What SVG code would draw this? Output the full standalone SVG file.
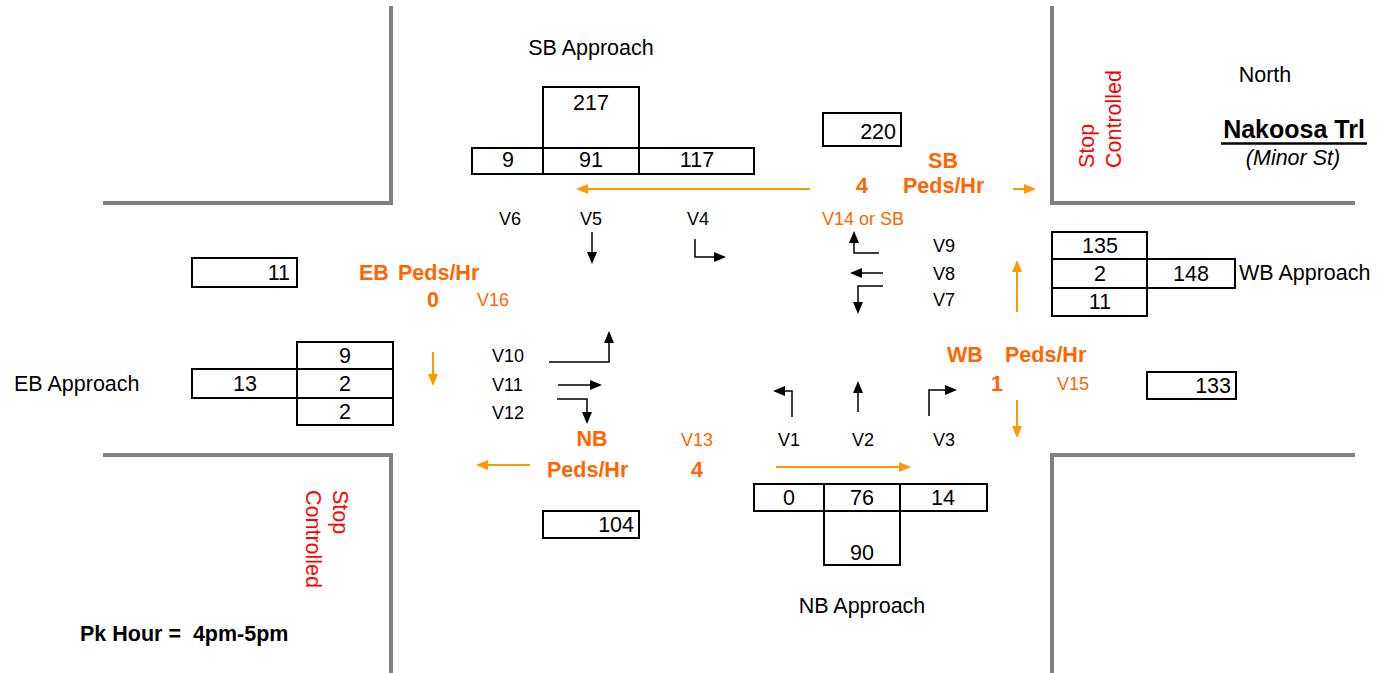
<svg xmlns="http://www.w3.org/2000/svg" width="1380" height="673" viewBox="0 0 1380 673">
<style>
text{font-family:"Liberation Sans",Arial,sans-serif;fill:#000;white-space:pre}
.t{font-size:21.5px}
.c{text-anchor:middle}
.e{text-anchor:end}
.v{font-size:18px}
.ov{font-size:18px;fill:#FF6600}
.ob{font-size:21.5px;font-weight:bold;fill:#FF6600}
.red{font-size:21.5px;fill:#FF0000}
.box{fill:none;stroke:#000;stroke-width:2}
.curb{fill:none;stroke:#808080;stroke-width:4}
.ba{fill:none;stroke:#000;stroke-width:1.5;marker-end:url(#ab)}
.oa{fill:none;stroke:#FF9900;stroke-width:2;marker-end:url(#ao)}
</style>
<defs>
<marker id="ab" markerWidth="12" markerHeight="10" refX="10" refY="5" orient="auto" markerUnits="userSpaceOnUse"><path d="M0,0 L12,5 L0,10 z" fill="#000"/></marker>
<marker id="ao" markerWidth="12" markerHeight="10" refX="10" refY="5" orient="auto" markerUnits="userSpaceOnUse"><path d="M0,0 L12,5 L0,10 z" fill="#FF9900"/></marker>
</defs>
<rect width="1380" height="673" fill="#fff"/>
<g id="curbs">
<path class="curb" d="M391,6 V203 H103"/>
<path class="curb" d="M1052,6 V203 H1355"/>
<path class="curb" d="M103,455 H391 V673"/>
<path class="curb" d="M1355,455 H1052 V673"/>
</g>
<g id="connectors">
<path class="ba" d="M592,232 V262"/>
<path class="ba" d="M695,239 V257 H724"/>
<path class="ba" d="M879,253 H854 V233"/>
<path class="ba" d="M883,273 H852"/>
<path class="ba" d="M883,286 H858 V312"/>
<path class="ba" d="M549,362 H609 V333"/>
<path class="ba" d="M558,385 H600"/>
<path class="ba" d="M557,399 H587 V422"/>
<path class="ba" d="M792,417 V391 H775"/>
<path class="ba" d="M858,412 V383"/>
<path class="ba" d="M929,416 V390 H955"/>
<path class="oa" d="M810,189 H578"/>
<path class="oa" d="M1013,189 H1034"/>
<path class="oa" d="M1017,312 V262"/>
<path class="oa" d="M1017,400 V436"/>
<path class="oa" d="M776,467 H909"/>
<path class="oa" d="M530,465 H478"/>
<path class="oa" d="M433,352 V384"/>
</g>
<g id="sb-approach">
<text class="t c" x="591" y="55">SB Approach</text>
<rect class="box" x="543" y="87" width="96" height="61"/>
<text class="t c" x="591" y="110">217</text>
<rect class="box" x="472" y="148" width="71" height="26"/>
<rect class="box" x="543" y="148" width="96" height="26"/>
<rect class="box" x="639" y="148" width="115" height="26"/>
<text class="t c" x="508" y="167">9</text>
<text class="t c" x="591" y="167">91</text>
<text class="t c" x="697" y="167">117</text>
</g>
<g id="sb-exit">
<rect class="box" x="823" y="113" width="78" height="33"/>
<text class="t e" x="896" y="139">220</text>
</g>
<g id="sb-peds">
<text class="ob c" x="943" y="168">SB</text>
<text class="ob c" x="862" y="193">4</text>
<text class="ob" x="903" y="193">Peds/Hr</text>
<text class="ov" x="822" y="225">V14 or SB</text>
</g>
<g id="sb-moves">
<text class="v" x="499" y="225">V6</text>
<text class="v" x="580" y="225">V5</text>
<text class="v" x="687" y="225">V4</text>
</g>
<g id="wb-moves">
<text class="v" x="933" y="252">V9</text>
<text class="v" x="933" y="280">V8</text>
<text class="v" x="933" y="306">V7</text>
</g>
<g id="wb-approach">
<rect class="box" x="1052" y="232" width="95" height="27"/>
<rect class="box" x="1052" y="259" width="95" height="29"/>
<rect class="box" x="1052" y="288" width="95" height="28"/>
<rect class="box" x="1147" y="259" width="88" height="29"/>
<text class="t c" x="1100" y="253">135</text>
<text class="t c" x="1100" y="281">2</text>
<text class="t c" x="1100" y="309">11</text>
<text class="t c" x="1191" y="281">148</text>
<text class="t" x="1239" y="280">WB Approach</text>
</g>
<g id="wb-exit">
<rect class="box" x="1147" y="372" width="89" height="27"/>
<text class="t e" x="1231" y="393">133</text>
</g>
<g id="wb-peds">
<text class="ob" x="947" y="362">WB<tspan x="1005">Peds/Hr</tspan></text>
<text class="ob c" x="997" y="391">1</text>
<text class="ov" x="1057" y="390">V15</text>
</g>
<g id="eb-exit">
<rect class="box" x="192" y="258" width="105" height="29"/>
<text class="t e" x="290" y="280">11</text>
</g>
<g id="eb-peds">
<text class="ob" x="359" y="280">EB<tspan x="398">Peds/Hr</tspan></text>
<text class="ob c" x="433" y="307">0</text>
<text class="ov" x="477" y="306">V16</text>
</g>
<g id="eb-approach">
<text class="t" x="14" y="391">EB Approach</text>
<rect class="box" x="297" y="342" width="96" height="27"/>
<rect class="box" x="297" y="369" width="96" height="29"/>
<rect class="box" x="297" y="398" width="96" height="27"/>
<rect class="box" x="192" y="369" width="105" height="29"/>
<text class="t c" x="345" y="363">9</text>
<text class="t c" x="345" y="391">2</text>
<text class="t c" x="345" y="419">2</text>
<text class="t c" x="245" y="391">13</text>
</g>
<g id="eb-moves">
<text class="v" x="492" y="362">V10</text>
<text class="v" x="492" y="391">V11</text>
<text class="v" x="492" y="419">V12</text>
</g>
<g id="nb-moves">
<text class="v" x="778" y="446">V1</text>
<text class="v" x="852" y="446">V2</text>
<text class="v" x="933" y="446">V3</text>
</g>
<g id="nb-peds">
<text class="ob c" x="592" y="446">NB</text>
<text class="ob" x="547" y="477">Peds/Hr</text>
<text class="ov" x="681" y="446">V13</text>
<text class="ob c" x="697" y="477">4</text>
</g>
<g id="nb-exit">
<rect class="box" x="543" y="511" width="96" height="27"/>
<text class="t e" x="634" y="532">104</text>
</g>
<g id="nb-approach">
<rect class="box" x="754" y="484" width="70" height="27"/>
<rect class="box" x="824" y="484" width="76" height="27"/>
<rect class="box" x="900" y="484" width="87" height="27"/>
<rect class="box" x="824" y="511" width="76" height="54"/>
<text class="t c" x="789" y="505">0</text>
<text class="t c" x="862" y="505">76</text>
<text class="t c" x="943" y="505">14</text>
<text class="t c" x="862" y="560">90</text>
<text class="t c" x="862" y="613">NB Approach</text>
</g>
<g id="stop-ne">
<text class="red" transform="translate(1094,168) rotate(-90)">Stop</text>
<text class="red" transform="translate(1121,168) rotate(-90)">Controlled</text>
</g>
<g id="stop-sw">
<text class="red" transform="translate(333,490) rotate(90)">Stop</text>
<text class="red" transform="translate(306,490) rotate(90)">Controlled</text>
</g>
<g id="title">
<text class="t c" x="1265" y="82">North</text>
<text class="c" x="1294" y="138" style="font-size:25px;font-weight:bold">Nakoosa Trl</text>
<line x1="1221" y1="143.5" x2="1367" y2="143.5" stroke="#000" stroke-width="2.5"/>
<text class="t c" x="1293" y="165" style="font-style:italic">(Minor St)</text>
</g>
<g id="pk-hour">
<text x="80" y="641" style="font-size:21.5px;font-weight:bold">Pk Hour =  4pm-5pm</text>
</g>
</svg>
